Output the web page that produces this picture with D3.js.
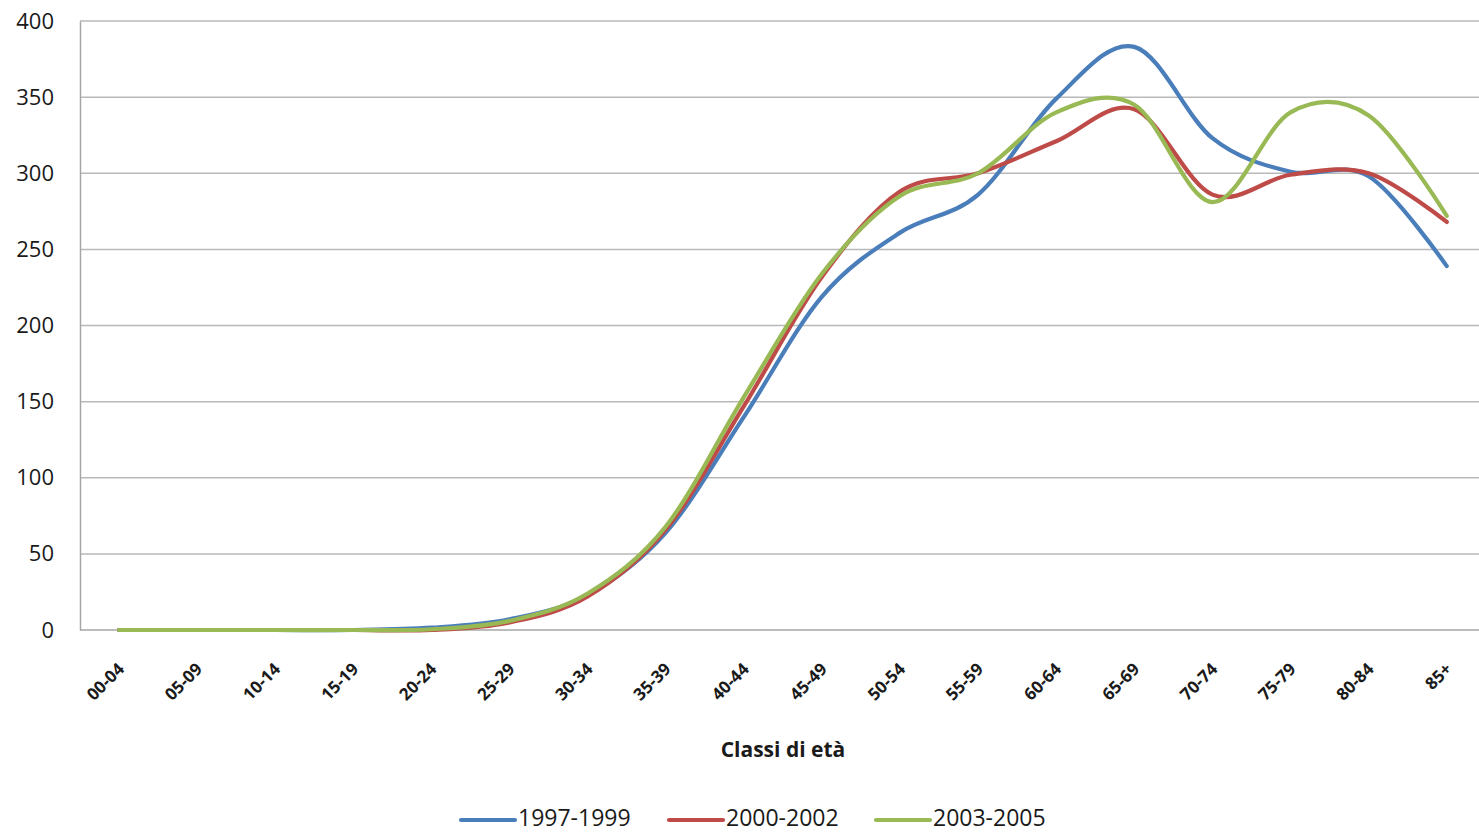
<!DOCTYPE html>
<html>
<head>
<meta charset="utf-8">
<script src="https://cdn.jsdelivr.net/npm/d3@7"></script>
<style>
  html, body { margin: 0; padding: 0; background: #fff; }
  svg { display: block; }
  text { font-family: "Open Sans", "Noto Sans", sans-serif; fill: #1a1a1a; }
</style>
</head>
<body>
<svg id="chart" width="1479" height="833"></svg>
<script>
// Age classes on the x axis
const categories = ["00-04","05-09","10-14","15-19","20-24","25-29","30-34","35-39","40-44",
                    "45-49","50-54","55-59","60-64","65-69","70-74","75-79","80-84","85+"];

// Rates per period
const s1997_1999 = [0, 0, 0, 0, 1.5, 7, 23, 64, 140, 219, 261, 286, 349, 383, 323, 301, 298, 239];
const s2000_2002 = [0, 0, 0, 0, 0, 5, 22, 66, 147, 232, 288, 300, 321, 342, 286, 299, 300, 268];
const s2003_2005 = [0, 0, 0, 0, 0.5, 6, 24, 68, 153, 234, 285, 300, 340, 345, 281, 340, 338, 272];

const seriesNames  = ["1997-1999", "2000-2002", "2003-2005"];
const seriesColors = ["#4A7EBB", "#BE4B48", "#98B954"];
const yTicks = [0, 50, 100, 150, 200, 250, 300, 350, 400];

const series = [s1997_1999, s2000_2002, s2003_2005].map((v, i) => ({
  name: seriesNames[i], color: seriesColors[i], values: v
}));

const svg = d3.select("#chart");
const plot = { left: 80, top: 21, bottom: 630 };
const step = 78.1;

const x = d3.scalePoint()
  .domain(categories)
  .range([plot.left + step / 2, plot.left + step / 2 + step * (categories.length - 1)]);

const y = d3.scaleLinear().domain([0, 400]).range([plot.bottom, plot.top]);

// Horizontal gridlines
svg.append("g")
  .selectAll("line")
  .data(yTicks.filter(d => d > 0))
  .join("line")
  .attr("x1", plot.left).attr("x2", 1479)
  .attr("y1", d => y(d)).attr("y2", d => y(d))
  .attr("stroke", "#b9b9b9").attr("stroke-width", 1.5);

// Y axis
const yAxis = svg.append("g")
  .attr("transform", `translate(${plot.left},0)`)
  .call(d3.axisLeft(y).tickValues(yTicks).tickSize(0).tickPadding(26));
yAxis.select(".domain").attr("stroke", "#a6a6a6").attr("stroke-width", 1.5);
yAxis.selectAll("text")
  .style("font-size", "22px")
  .style("font-family", "'Open Sans', 'Noto Sans', sans-serif")
  .attr("fill", "#1a1a1a");

// X axis baseline
svg.append("line")
  .attr("x1", plot.left).attr("x2", 1479)
  .attr("y1", plot.bottom).attr("y2", plot.bottom)
  .attr("stroke", "#a6a6a6").attr("stroke-width", 1.5);

// Rotated category labels
svg.append("g")
  .selectAll("text")
  .data(categories)
  .join("text")
  .attr("transform", d => `translate(${x(d) + 2},${plot.bottom + 36}) rotate(-45)`)
  .attr("text-anchor", "end")
  .attr("dy", "0.35em")
  .style("font-size", "17px")
  .style("font-weight", "bold")
  .text(d => d);

// Axis title
svg.append("text")
  .attr("x", 783).attr("y", 757)
  .attr("text-anchor", "middle")
  .style("font-size", "21px")
  .style("font-weight", "bold")
  .text("Classi di età");

// Smoothed lines
const line = d3.line()
  .x((d, i) => x(categories[i]))
  .y(d => y(d))
  .curve(d3.curveCardinal.tension(0));

svg.append("g")
  .selectAll("path")
  .data(series)
  .join("path")
  .attr("d", d => line(d.values))
  .attr("fill", "none")
  .attr("stroke", d => d.color)
  .attr("stroke-width", 4.2)
  .attr("stroke-linecap", "round")
  .attr("stroke-linejoin", "round");

// Legend
const legendX = [461, 669, 876];
const legend = svg.append("g")
  .selectAll("g")
  .data(series)
  .join("g")
  .attr("transform", (d, i) => `translate(${legendX[i]},820)`);
legend.append("line")
  .attr("x1", 0).attr("x2", 54)
  .attr("stroke", d => d.color)
  .attr("stroke-width", 4.2)
  .attr("stroke-linecap", "round");
legend.append("text")
  .attr("x", 57).attr("y", 6)
  .style("font-size", "23px")
  .text(d => d.name);
</script>
</body>
</html>
